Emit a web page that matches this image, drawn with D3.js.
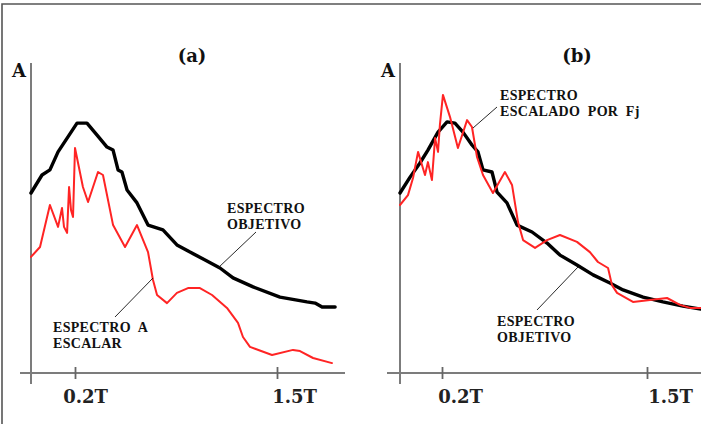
<!DOCTYPE html>
<html>
<head>
<meta charset="utf-8">
<script src="https://cdn.jsdelivr.net/npm/d3@7"></script>
<style>
  html, body { margin: 0; padding: 0; background: #fff; }
  svg { display: block; }
  .ann { font-family: "Liberation Serif", "Times New Roman", serif; font-weight: bold; font-size: 14px; letter-spacing: 0.3px; fill: #111; }
  .ttl { font-family: "DejaVu Serif", serif; font-weight: bold; font-size: 18px; fill: #111; }
  .tick text { font-family: "DejaVu Serif", serif; font-weight: bold; font-size: 18px; fill: #222; }
</style>
</head>
<body>
<script>
// Periods (in units of T) and spectral amplitudes A for each panel.
const tickValues = [0.2, 1.5];
const tickLabels = ["0.2T", "1.5T"];

// (a) target spectrum and the record spectrum before scaling
const objetivoA_T = [0, 0.05, 0.086, 0.123, 0.168, 0.213, 0.277, 0.342, 0.406, 0.445, 0.477, 0.502, 0.535, 0.599, 0.670, 0.766, 0.856, 0.940, 1.037, 1.133, 1.217, 1.346, 1.519, 1.693, 1.745, 1.790, 1.874];
const objetivoA_A = [6.00, 6.60, 6.77, 7.37, 7.87, 8.33, 8.33, 7.93, 7.53, 7.43, 6.77, 6.70, 6.10, 5.67, 4.93, 4.77, 4.27, 4.03, 3.77, 3.50, 3.17, 2.87, 2.53, 2.37, 2.33, 2.20, 2.20];

const escalarA_T = [0, 0.041, 0.086, 0.123, 0.141, 0.150, 0.164, 0.173, 0.182, 0.191, 0.200, 0.251, 0.284, 0.348, 0.380, 0.445, 0.522, 0.599, 0.670, 0.702, 0.728, 0.792, 0.856, 0.927, 1.004, 1.082, 1.178, 1.249, 1.281, 1.326, 1.468, 1.603, 1.648, 1.732, 1.854];
const escalarA_A = [3.87, 4.20, 5.60, 4.87, 5.50, 4.87, 4.67, 6.20, 5.43, 5.20, 7.50, 6.20, 5.70, 6.70, 6.60, 4.93, 4.20, 4.93, 4.03, 3.10, 2.60, 2.33, 2.67, 2.83, 2.83, 2.60, 2.17, 1.67, 1.20, 0.87, 0.60, 0.77, 0.73, 0.50, 0.33];

// (b) target spectrum and the record spectrum scaled by Fj
const objetivoB_T = [0, 0.048, 0.095, 0.133, 0.181, 0.232, 0.282, 0.333, 0.390, 0.428, 0.460, 0.517, 0.549, 0.612, 0.676, 0.771, 0.866, 0.948, 1.056, 1.158, 1.265, 1.348, 1.475, 1.601, 1.728, 1.842];
const objetivoB_A = [6.00, 6.53, 7.00, 7.43, 8.03, 8.37, 8.33, 8.03, 7.60, 7.37, 6.77, 6.70, 6.03, 5.67, 4.93, 4.70, 4.33, 3.93, 3.60, 3.27, 3.00, 2.77, 2.53, 2.37, 2.23, 2.13];

const escaladoB_T = [0, 0.038, 0.062, 0.086, 0.119, 0.133, 0.152, 0.167, 0.181, 0.190, 0.206, 0.251, 0.301, 0.359, 0.390, 0.422, 0.460, 0.523, 0.599, 0.644, 0.682, 0.714, 0.790, 0.866, 0.948, 1.056, 1.138, 1.189, 1.253, 1.278, 1.310, 1.411, 1.519, 1.627, 1.709, 1.773, 1.842];
const escaladoB_A = [5.60, 5.93, 6.50, 7.37, 6.60, 7.03, 6.43, 7.83, 7.37, 8.27, 9.27, 8.53, 7.50, 8.43, 8.20, 7.20, 6.60, 6.00, 6.70, 6.27, 5.03, 4.43, 4.17, 4.43, 4.60, 4.37, 4.03, 3.70, 3.50, 2.93, 2.67, 2.37, 2.43, 2.50, 2.27, 2.17, 2.17];

const W = 701, H = 424;
const svg = d3.select("body").append("svg").attr("width", W).attr("height", H);

// outer frame (top and left edges)
svg.append("path").attr("d", `M2,${H} L2,4 L${W},4`)
  .attr("fill", "none").attr("stroke", "#555").attr("stroke-width", 1.6);

const y = d3.scaleLinear().domain([0, 10]).range([373, 73]);
const yTop = 10.33;

const panels = [
  {
    title: "(a)", titleX: 192,
    x: d3.scaleLinear().domain([0, 0.2, 1.5]).range([31, 75, 277]),
    axisFrom: 20, axisTo: 345, labelDx: [10, 17],
    black: d3.zip(objetivoA_T, objetivoA_A),
    red: d3.zip(escalarA_T, escalarA_A),
    notes: [
      { lines: ["ESPECTRO", "OBJETIVO"], x: 227, y: 213, leader: [256, 232, 218, 268] },
      { lines: ["ESPECTRO  A", "ESCALAR"], x: 53, y: 332, leader: [115, 317, 153, 278] }
    ]
  },
  {
    title: "(b)", titleX: 577,
    x: d3.scaleLinear().domain([0, 0.2, 1.5]).range([400, 442, 647]),
    axisFrom: 387, axisTo: 701, labelDx: [18, 23],
    black: d3.zip(objetivoB_T, objetivoB_A),
    red: d3.zip(escaladoB_T, escaladoB_A),
    notes: [
      { lines: ["ESPECTRO", "ESCALADO  POR  Fj"], x: 500, y: 100, leader: [497, 107, 473, 128] },
      { lines: ["ESPECTRO", "OBJETIVO"], x: 497, y: 326, leader: [537, 310, 578, 267] }
    ]
  }
];

panels.forEach(p => {
  const g = svg.append("g");
  const x0 = p.x(0);

  // axes: vertical amplitude axis and horizontal period axis
  g.append("line").attr("x1", x0).attr("x2", x0)
    .attr("y1", y(yTop)).attr("y2", y(0) + 11)
    .attr("stroke", "#7c7c7c").attr("stroke-width", 2);
  g.append("line").attr("x1", p.axisFrom).attr("x2", p.axisTo)
    .attr("y1", y(0)).attr("y2", y(0))
    .attr("stroke", "#7c7c7c").attr("stroke-width", 2);

  const ax = g.append("g").attr("transform", `translate(0,${y(0)})`)
    .call(d3.axisBottom(p.x).tickValues(tickValues)
      .tickFormat((d, i) => tickLabels[i]).tickSizeOuter(0).tickSize(6).tickPadding(0));
  ax.select(".domain").remove();
  ax.selectAll(".tick line").attr("y1", -6).attr("y2", 6)
    .attr("stroke", "#666").attr("stroke-width", 1.8);
  ax.selectAll(".tick text").attr("y", 30).attr("dy", null)
    .attr("dx", (d, i) => p.labelDx[i]);

  g.append("text").attr("class", "ttl").attr("x", p.titleX).attr("y", 62)
    .attr("text-anchor", "middle").text(p.title);
  g.append("text").attr("class", "ttl").attr("x", x0 - 12).attr("y", 77)
    .attr("text-anchor", "middle").text("A");

  const line = d3.line().x(d => p.x(d[0])).y(d => y(d[1]));
  g.append("path").datum(p.black).attr("d", line)
    .attr("fill", "none").attr("stroke", "#000").attr("stroke-width", 3.4)
    .attr("stroke-linejoin", "round").attr("stroke-linecap", "round");
  g.append("path").datum(p.red).attr("d", line)
    .attr("fill", "none").attr("stroke", "#ff2424").attr("stroke-width", 2)
    .attr("stroke-linejoin", "round").attr("stroke-linecap", "round");

  p.notes.forEach(n => {
    g.append("line").attr("x1", n.leader[0]).attr("y1", n.leader[1])
      .attr("x2", n.leader[2]).attr("y2", n.leader[3])
      .attr("stroke", "#111").attr("stroke-width", 0.9);
    const t = g.append("text").attr("class", "ann").attr("x", n.x).attr("y", n.y)
      .style("white-space", "pre");
    n.lines.forEach((s, i) => {
      t.append("tspan").attr("x", n.x).attr("y", n.y + i * 16).text(s);
    });
  });
});
</script>
</body>
</html>
